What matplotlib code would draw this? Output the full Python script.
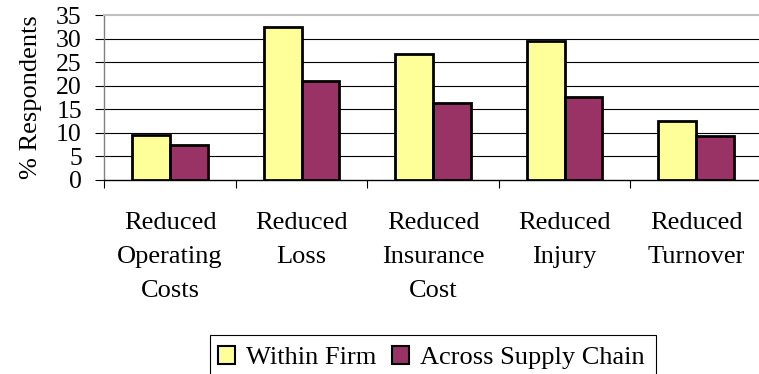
import numpy as np
from matplotlib import pyplot as plt
from matplotlib.patches import Rectangle

categories = ["Reduced\nOperating\nCosts", "Reduced\nLoss", "Reduced\nInsurance\nCost",
              "Reduced\nInjury", "Reduced\nTurnover"]
within_firm = [9.5, 32.5, 26.7, 29.5, 12.6]
across_chain = [7.4, 21.1, 16.3, 17.6, 9.4]
series_names = ["Within Firm", "Across Supply Chain"]
y_ticks = [0, 5, 10, 15, 20, 25, 30, 35]

plt.rcParams['font.family'] = ['Liberation Serif', 'DejaVu Serif']

fig = plt.figure(figsize=(7.59, 3.74), dpi=100)
ax = fig.add_axes([104.3 / 759, 1 - 180 / 374, 657.5 / 759, 165 / 374])

x = np.arange(len(categories))
w = 0.287
ax.bar(x - w / 2, within_firm, w, color='#FFFF99', edgecolor='black', linewidth=2.0,
       label=series_names[0], zorder=3)
ax.bar(x + w / 2, across_chain, w, color='#993366', edgecolor='black', linewidth=2.0,
       label=series_names[1], zorder=3)

ax.set_xlim(-0.5, len(categories) - 0.5)
ax.set_ylim(0, 35)
ax.set_yticks(y_ticks)
ax.set_yticklabels([str(v) for v in y_ticks], fontsize=18.5)
for v in y_ticks[1:-1]:
    ax.axhline(v, color='black', linewidth=0.8, zorder=1)

ax.set_xticks(x)
ax.set_xticklabels(categories, fontsize=19, linespacing=1.7)
ax.set_xticks(np.arange(len(categories) + 1) - 0.5, minor=True)
ax.tick_params(axis='x', which='major', length=0, pad=23)
ax.tick_params(axis='x', which='minor', length=6, width=0.8, direction='out')
ax.tick_params(axis='y', length=6.2, width=0.8, pad=10, direction='out')

ax.spines['right'].set_visible(False)
ax.spines['top'].set_color('#c0c0c0')
ax.spines['top'].set_linewidth(1.5)
ax.spines['left'].set_color('#808080')
ax.spines['left'].set_linewidth(1.0)
ax.spines['bottom'].set_color('black')
ax.spines['bottom'].set_linewidth(1.0)

ax.set_ylabel("% Respondents", fontsize=19)
ax.yaxis.set_label_coords(-0.094, 0.5)

# legend without its own frame, box drawn by hand so the padding can differ per side
leg = fig.legend(loc='upper left', bbox_to_anchor=(218 / 759, 1 - 346 / 374), fontsize=19,
                 ncol=2, frameon=False, handlelength=0.65, handleheight=0.65,
                 handletextpad=0.4, columnspacing=0.6, borderpad=0, borderaxespad=0)
for h in leg.legend_handles:
    h.set_linewidth(1.5)

fig.canvas.draw()
bb = leg.get_window_extent()
fig.patches.append(Rectangle((bb.x0 - 8, -20), bb.width + 20, bb.y1 + 11 + 20,
                             transform=None, fill=False, edgecolor='black', linewidth=0.8))

fig.savefig("out.png", dpi=100)
